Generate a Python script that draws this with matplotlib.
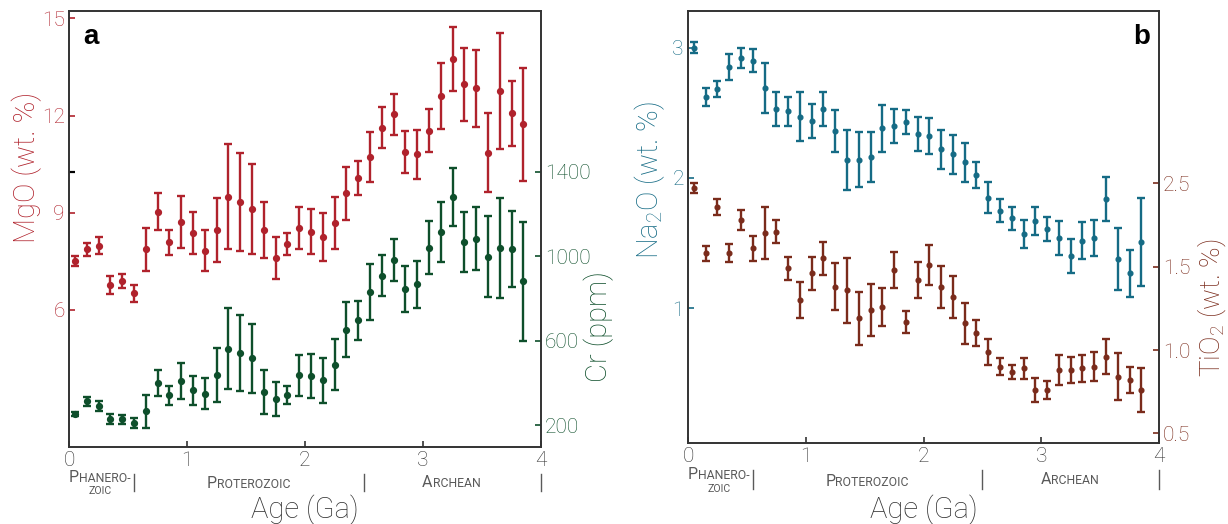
import numpy as np
import matplotlib
matplotlib.use("Agg")
import matplotlib.pyplot as plt
import matplotlib.transforms as mtransforms
import matplotlib.font_manager as fm

# ---------------- data ----------------
ages = [0.05, 0.15, 0.25, 0.35, 0.45, 0.55, 0.65, 0.75, 0.85, 0.95,
        1.05, 1.15, 1.25, 1.35, 1.45, 1.55, 1.65, 1.75, 1.85, 1.95,
        2.05, 2.15, 2.25, 2.35, 2.45, 2.55, 2.65, 2.75, 2.85, 2.95,
        3.05, 3.15, 3.25, 3.35, 3.45, 3.55, 3.65, 3.75, 3.85]

mgo = [7.52, 7.87, 7.98, 6.77, 6.90, 6.52, 7.87, 9.03, 8.09, 8.71,
       8.37, 7.83, 8.47, 9.50, 9.34, 9.12, 8.47, 7.60, 8.03, 8.52,
       8.42, 8.26, 8.69, 9.60, 10.08, 10.73, 11.63, 12.04, 10.89, 10.81,
       11.53, 12.61, 13.74, 12.97, 12.84, 10.86, 12.76, 12.07, 11.73]
mgo_err = [0.15, 0.20, 0.26, 0.29, 0.22, 0.26, 0.67, 0.57, 0.38, 0.81,
           0.65, 0.64, 1.00, 1.63, 1.52, 1.38, 0.87, 0.65, 0.34, 0.65,
           0.69, 0.74, 0.80, 0.82, 0.52, 0.77, 0.63, 0.63, 0.65, 0.76,
           0.66, 1.02, 0.99, 1.13, 1.18, 1.22, 1.80, 1.00, 1.75]

cr = [252, 312, 292, 228, 228, 209, 265, 399, 340, 407,
      364, 349, 435, 561, 542, 515, 357, 325, 344, 435,
      434, 412, 486, 652, 695, 829, 908, 980, 845, 866,
      1040, 1114, 1280, 1066, 1083, 997, 1040, 1035, 881]
cr_err = [10, 22, 24, 25, 21, 24, 79, 60, 44, 85,
          67, 72, 128, 191, 179, 164, 104, 81, 43, 96,
          104, 107, 120, 130, 91, 134, 99, 99, 108, 111,
          124, 141, 136, 141, 149, 192, 237, 181, 282]

na2o = [3.00, 2.62, 2.68, 2.85, 2.92, 2.90, 2.69, 2.53, 2.51, 2.47,
        2.44, 2.53, 2.36, 2.14, 2.14, 2.16, 2.38, 2.40, 2.43, 2.34,
        2.32, 2.22, 2.18, 2.12, 2.02, 1.85, 1.75, 1.69, 1.57, 1.67,
        1.61, 1.54, 1.40, 1.52, 1.54, 1.84, 1.38, 1.27, 1.51]
na2o_err = [0.04, 0.07, 0.06, 0.10, 0.08, 0.09, 0.19, 0.13, 0.11, 0.19,
            0.13, 0.13, 0.16, 0.23, 0.21, 0.19, 0.18, 0.13, 0.09, 0.13,
            0.14, 0.15, 0.15, 0.15, 0.10, 0.12, 0.09, 0.09, 0.11, 0.11,
            0.09, 0.13, 0.13, 0.14, 0.14, 0.17, 0.24, 0.18, 0.34]

tio2 = [1.97, 1.58, 1.86, 1.58, 1.78, 1.61, 1.70, 1.71, 1.49, 1.30,
        1.46, 1.55, 1.38, 1.36, 1.19, 1.24, 1.26, 1.48, 1.17, 1.42,
        1.51, 1.38, 1.32, 1.16, 1.10, 0.99, 0.90, 0.87, 0.89, 0.76,
        0.76, 0.88, 0.88, 0.89, 0.90, 0.96, 0.84, 0.82, 0.76]
tio2_err = [0.03, 0.045, 0.047, 0.054, 0.06, 0.074, 0.156, 0.07, 0.07, 0.11,
            0.10, 0.10, 0.14, 0.195, 0.16, 0.155, 0.113, 0.108, 0.065, 0.108,
            0.12, 0.127, 0.127, 0.122, 0.078, 0.077, 0.052, 0.043, 0.063, 0.07,
            0.055, 0.09, 0.08, 0.083, 0.087, 0.105, 0.142, 0.08, 0.13]

x_ticks = [0, 1, 2, 3, 4]
mgo_ticks = [6, 9, 12, 15]
cr_ticks = [200, 600, 1000, 1400]
na2o_ticks = [1, 2, 3]
tio2_ticks = [0.5, 1.0, 1.5, 2.0]
tio2_ticklabels = ["0.5", "1.0", "1.5", "2.5"]

eras = ["Phanerozoic", "Proterozoic", "Archean"]
era_bounds = [0.55, 2.5, 4.0]

# ---------------- style ----------------
RED = "#B0222C"
GREEN = "#0E4F2B"
TEAL = "#156B85"
BROWN = "#7A2B1B"
SPINE = "#333333"
GRAY = "#5a5a5a"


def has_font(name, maxw=None):
    for f in fm.fontManager.ttflist:
        w = f.weight
        if isinstance(w, str):
            w = fm.weight_dict.get(w, 400)
        if f.name == name and f.style == "normal" and (maxw is None or w <= maxw):
            return True
    return False


FONT, WEIGHT = "Liberation Sans", "normal"
for _name in ["Roboto", "Open Sans", "Inter"]:
    if has_font(_name, 300):
        FONT, WEIGHT = _name, "light"
        break
else:
    for _name in ["Roboto", "Lato", "Open Sans"]:
        if has_font(_name):
            FONT, WEIGHT = _name, "normal"
            break

plt.rcParams["font.family"] = [FONT, "DejaVu Sans"]
plt.rcParams["font.weight"] = WEIGHT
plt.rcParams["mathtext.default"] = "regular"

W, H = 1228, 524
fig = plt.figure(figsize=(W / 100, H / 100), dpi=100)


def px_axes(l, t, r, b):
    return fig.add_axes([l / W, 1 - b / H, (r - l) / W, (b - t) / H])


ax_a = px_axes(69, 11, 541, 447)
ax_b = px_axes(688, 11, 1159, 442.7)
ax_a2 = ax_a.twinx()
ax_b2 = ax_b.twinx()

eb_kw = dict(fmt="o", lw=1.7, capsize=3.2, capthick=1.7, zorder=3)
ax_a.errorbar(ages, mgo, yerr=mgo_err, color=RED, ms=4.2, **eb_kw)
ax_a2.errorbar(ages, cr, yerr=cr_err, color=GREEN, ms=4.2, **eb_kw)
ax_b.errorbar(ages, na2o, yerr=na2o_err, color=TEAL, ms=3.4, **eb_kw)
ax_b2.errorbar(ages, tio2, yerr=tio2_err, color=BROWN, ms=3.4, **eb_kw)

for ax in (ax_a, ax_b):
    ax.set_xlim(0, 4)
    ax.set_xticks(x_ticks)
    ax.set_xticklabels([str(t) for t in x_ticks])
    ax.tick_params(axis="x", direction="in", length=4, width=1.2,
                   colors=SPINE, labelsize=15, pad=3)

ax_a.set_ylim(1.77, 15.23)
ax_a.set_yticks(mgo_ticks)
ax_a.set_yticklabels([str(t) for t in mgo_ticks])
ax_a.tick_params(axis="y", direction="in", length=4, width=1.2,
                 colors=RED, labelsize=15, pad=3)
ax_a.set_yticks([10.26], minor=True)
ax_a.tick_params(axis="y", which="minor", direction="in", length=4,
                 width=1.6, color="black")

ax_a2.set_ylim(95.8, 2161)
ax_a2.set_yticks(cr_ticks)
ax_a2.set_yticklabels([str(t) for t in cr_ticks])
ax_a2.tick_params(axis="y", direction="in", length=4, width=1.2,
                  colors=GREEN, labelsize=15, pad=3)

ax_b.set_ylim(-0.03, 3.28)
ax_b.set_yticks(na2o_ticks)
ax_b.set_yticklabels([str(t) for t in na2o_ticks])
ax_b.tick_params(axis="y", direction="in", length=4, width=1.2,
                 colors=TEAL, labelsize=15, pad=3)

ax_b2.set_ylim(0.444, 3.034)
ax_b2.set_yticks(tio2_ticks)
ax_b2.set_yticklabels(tio2_ticklabels)
ax_b2.tick_params(axis="y", direction="in", length=4, width=1.2,
                  colors=BROWN, labelsize=15, pad=3)

for ax in (ax_a, ax_a2, ax_b, ax_b2):
    for sp in ax.spines.values():
        sp.set_color(SPINE)
        sp.set_linewidth(1.2)


def ftext(xp, yp, s, **kw):
    fig.text(xp / W, 1 - yp / H, s, ha="center", va="center", **kw)


ftext(27, 167.5, "MgO (wt. %)", color=RED, fontsize=21, rotation=90)
ftext(599, 326, "Cr (ppm)", color=GREEN, fontsize=21, rotation=90)
ftext(650, 180, "Na$_2$O (wt. %)", color=TEAL, fontsize=21, rotation=90)
ftext(1212, 307.5, "TiO$_2$ (wt. %)", color=BROWN, fontsize=20, rotation=90)
ftext(305, 510, "Age (Ga)", color=SPINE, fontsize=21)
ftext(923.5, 510, "Age (Ga)", color=SPINE, fontsize=21)

ax_a.text(0.03, 0.97, "a", transform=ax_a.transAxes, ha="left", va="top",
          fontsize=20, fontweight="bold", family="Liberation Sans", color="black")
ax_b.text(0.981, 0.97, "b", transform=ax_b.transAxes, ha="right", va="top",
          fontsize=20, fontweight="bold", family="Liberation Sans", color="black")

renderer = fig.canvas.get_renderer()
BIG, SMALL, TINY = 11.5, 8.8, 7.6


def smallcaps(ax, xdata, ypx, word, small=SMALL):
    base = mtransforms.blended_transform_factory(ax.transData, fig.transFigure)
    parts = [(word[0].upper(), BIG)] if word[0].isupper() else []
    rest = word[1:] if word[0].isupper() else word
    parts.append((rest.upper(), small))
    texts, widths = [], []
    for s, size in parts:
        t = ax.text(xdata, 1 - ypx / H, s, fontsize=size, color=GRAY,
                    fontweight="normal", ha="left", va="baseline",
                    transform=base, clip_on=False)
        widths.append(t.get_window_extent(renderer).width)
        texts.append(t)
    x0 = -sum(widths) / 2
    for t, w in zip(texts, widths):
        t.set_transform(mtransforms.offset_copy(base, fig=fig, x=x0, y=0,
                                                units="dots"))
        x0 += w


def eras_for(ax, base_y):
    smallcaps(ax, 0.26, base_y["ph1"], "Phanero-")
    smallcaps(ax, 0.26, base_y["ph2"], "zoic", small=TINY)
    smallcaps(ax, 1.52, base_y["pr"], "Proterozoic")
    smallcaps(ax, 3.24, base_y["ar"], "Archean")
    tr = mtransforms.blended_transform_factory(ax.transData, fig.transFigure)
    for xb in era_bounds:
        ax.plot([xb, xb], [1 - base_y["s0"] / H, 1 - base_y["s1"] / H],
                color=GRAY, lw=1.0, transform=tr, clip_on=False)


eras_for(ax_a, dict(ph1=482, ph2=494, pr=488, ar=487, s0=474, s1=491))
eras_for(ax_b, dict(ph1=479, ph2=491.5, pr=486, ar=484, s0=470, s1=489))

fig.savefig("out.png", dpi=100)
